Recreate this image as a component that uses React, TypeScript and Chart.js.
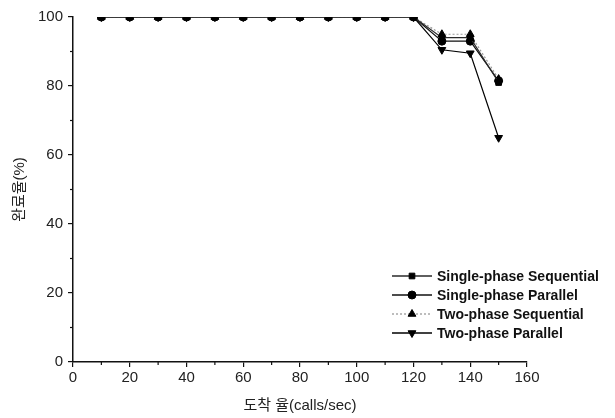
import React, { useEffect, useRef } from "react";
import { Chart, registerables } from "chart.js";
import { drawPoint } from "chart.js/helpers";

Chart.register(...registerables);

const arrivalRates = [10, 20, 30, 40, 50, 60, 70, 80, 90, 100, 110, 120, 130, 140, 150];
const singleSeq = [100, 100, 100, 100, 100, 100, 100, 100, 100, 100, 100, 100, 94, 94, 81];
const singlePar = [100, 100, 100, 100, 100, 100, 100, 100, 100, 100, 100, 100, 93, 93, 81.5];
const twoSeq = [100, 100, 100, 100, 100, 100, 100, 100, 100, 100, 100, 100, 95, 95, 82];
const twoPar = [100, 100, 100, 100, 100, 100, 100, 100, 100, 100, 100, 100, 90.5, 89.5, 65];
const seriesNames = ["Single-phase Sequential", "Single-phase Parallel", "Two-phase Sequential", "Two-phase Parallel"];
const xTitle = "도착 율(calls/sec)";
const yTitle = "완료율(%)";

const TICK_FONT = "'Liberation Sans Narrow', 'Liberation Sans', Arial, sans-serif";
const FONT = "'Liberation Sans', Arial, 'Noto Sans CJK KR', sans-serif";

export default function App() {
  const ref = useRef<HTMLCanvasElement | null>(null);
  useEffect(() => {
    document.body.style.margin = "0";
    const canvas = ref.current;
    if (!canvas) return;
    const toPts = (vals: number[]) => arrivalRates.map((x, i) => ({ x, y: vals[i] }));
    const styles = [
      { color: "#2a2a2a", point: "rect", rot: 0, dash: [] as number[], r: 4 },
      { color: "#111", point: "circle", rot: 0, dash: [] as number[], r: 4 },
      { color: "#9a9a9a", point: "triangle", rot: 0, dash: [2, 2], r: 4.5 },
      { color: "#000", point: "triangle", rot: 180, dash: [] as number[], r: 4.5 },
    ];
    const all = [singleSeq, singlePar, twoSeq, twoPar];

    const minorTicks = {
      id: "minorTicks",
      afterDraw(chart: any) {
        const ctx = chart.ctx;
        const xs = chart.scales.x;
        const ys = chart.scales.y;
        ctx.save();
        ctx.strokeStyle = "#111";
        ctx.lineWidth = 1.2;
        for (let v = 10; v < 160; v += 20) {
          const px = xs.getPixelForValue(v);
          ctx.beginPath();
          ctx.moveTo(px, xs.top);
          ctx.lineTo(px, xs.top + 3);
          ctx.stroke();
        }
        for (let v = 10; v < 100; v += 20) {
          const py = ys.getPixelForValue(v);
          ctx.beginPath();
          ctx.moveTo(ys.right, py);
          ctx.lineTo(ys.right - 3, py);
          ctx.stroke();
        }
        ctx.restore();
      },
    };

    const legendPlugin = {
      id: "customLegend",
      afterDraw(chart: any) {
        const ctx = chart.ctx;
        ctx.save();
        const x0 = 392;
        const rows = [276, 295, 314, 333];
        chart.data.datasets.forEach((ds: any, i: number) => {
          const y = rows[i];
          const st = styles[i];
          ctx.strokeStyle = st.color;
          ctx.lineWidth = 1.3;
          ctx.setLineDash(st.dash);
          ctx.beginPath();
          ctx.moveTo(x0, y);
          ctx.lineTo(x0 + 40, y);
          ctx.stroke();
          ctx.setLineDash([]);
          ctx.fillStyle = "#000";
          ctx.strokeStyle = "#000";
          ctx.lineWidth = 1;
          drawPoint(ctx, { pointStyle: st.point as any, radius: st.r, rotation: st.rot, borderWidth: 1 }, x0 + 20, y);
          ctx.fillStyle = "#111";
          ctx.font = `bold 14px ${FONT}`;
          ctx.textBaseline = "middle";
          ctx.textAlign = "left";
          ctx.fillText(ds.label, x0 + 45, y + 1);
        });
        ctx.restore();
      },
    };

    const chart = new Chart(canvas, {
      type: "line",
      data: {
        datasets: all.map((vals, i) => ({
          label: seriesNames[i],
          data: toPts(vals),
          borderColor: styles[i].color,
          borderWidth: 1.2,
          borderDash: styles[i].dash,
          pointStyle: styles[i].point as any,
          rotation: styles[i].rot,
          pointRadius: styles[i].r,
          pointBackgroundColor: "#000",
          pointBorderColor: "#000",
          pointBorderWidth: 1,
          fill: false,
          tension: 0,
        })),
      },
      options: {
        animation: false,
        responsive: false,
        devicePixelRatio: 1,
        layout: { padding: { left: 0, right: 88, top: 17, bottom: 0 } },
        plugins: { legend: { display: false }, tooltip: { enabled: false } },
        scales: {
          x: {
            type: "linear",
            min: 0,
            max: 160,
            afterFit: (s: any) => { s.height = 56; },
            border: { display: true, color: "#111", width: 1.5 },
            grid: { drawOnChartArea: false, drawTicks: true, tickLength: 5, color: "#111", lineWidth: 1.2 },
            ticks: { stepSize: 20, color: "#222", font: { family: TICK_FONT, size: 15 }, padding: 2, maxRotation: 0 },
            title: { display: true, text: xTitle, color: "#222", font: { family: FONT, size: 15 }, padding: { top: 4, bottom: 3 } },
          },
          y: {
            min: 0,
            max: 100,
            afterFit: (s: any) => { s.width = 73; },
            border: { display: true, color: "#111", width: 1.5 },
            grid: { drawOnChartArea: false, drawTicks: true, tickLength: 5, color: "#111", lineWidth: 1.2 },
            ticks: { stepSize: 20, color: "#222", font: { family: TICK_FONT, size: 15 }, padding: 5 },
            title: { display: true, text: yTitle, color: "#222", font: { family: FONT, size: 15 }, padding: { top: 11, bottom: 0 } },
          },
        },
      },
      plugins: [minorTicks, legendPlugin],
    });
    return () => chart.destroy();
  }, []);
  return <canvas ref={ref} width={615} height={418} style={{ display: "block" }} />;
}
